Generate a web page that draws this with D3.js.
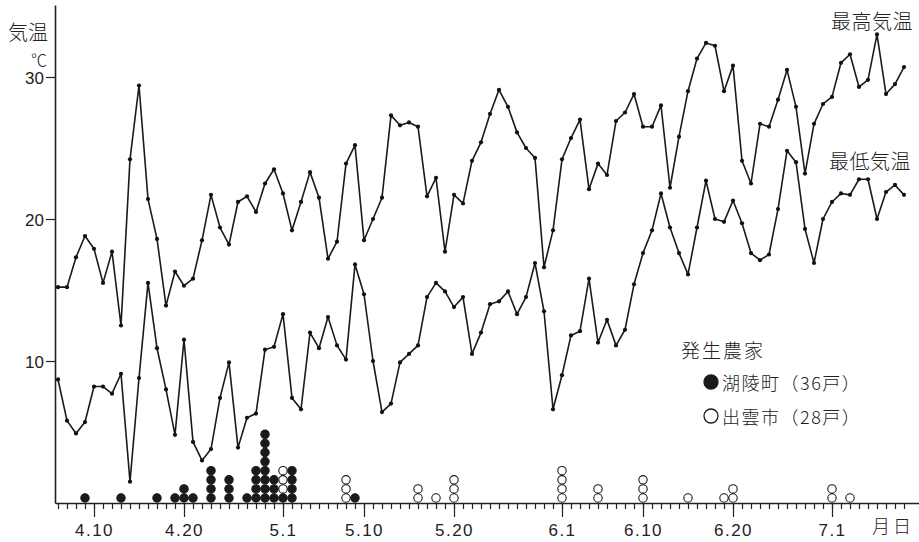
<!DOCTYPE html>
<html><head><meta charset="utf-8">
<script src="https://cdn.jsdelivr.net/npm/d3@7"></script>
<style>
body{margin:0;background:#fff}
.num{font-family:"Liberation Sans","DejaVu Sans",sans-serif;fill:#222}
.jp{font-family:"Noto Sans CJK JP","Noto Sans",sans-serif;fill:#222;font-weight:300}
</style>
</head><body>
<svg id="c" width="919" height="542"></svg>
<script>
// ---- data ----
const startDate = "2001-04-06";   // first day of the daily series (year arbitrary)
const maxTemp = [
  15.2,15.2,17.3,18.8,17.9,15.5,17.7,12.5,24.2,29.4,21.4,18.6,13.9,16.3,15.3,15.8,18.5,21.7,19.4,18.2,21.2,21.6,20.5,22.5,23.5,
  21.8,19.2,21.2,23.3,21.5,17.2,18.4,23.9,25.2,18.5,20.0,21.5,27.3,26.6,26.8,26.5,21.6,22.9,17.7,21.7,21.1,24.1,25.4,27.4,29.1,27.9,26.1,25.0,24.3,16.6,19.2,
  24.2,25.7,27.0,22.1,23.9,23.1,26.9,27.5,28.8,26.5,26.5,28.0,22.2,25.8,29.0,31.3,32.4,32.2,29.0,30.8,24.1,22.5,26.7,26.5,28.4,30.5,27.9,23.2,26.7,28.1,
  28.6,31.0,31.6,29.3,29.8,33.0,28.8,29.5,30.7
];
const minTemp = [
  8.7,5.8,4.9,5.7,8.2,8.2,7.7,9.1,1.5,8.8,15.5,10.9,8.0,4.8,11.5,4.3,3.0,3.8,7.4,9.9,3.9,6.0,6.3,10.8,11.0,
  13.3,7.4,6.6,12.0,10.9,13.1,11.1,10.1,16.8,14.7,10.0,6.4,7.0,9.9,10.5,11.1,14.5,15.5,14.9,13.8,14.5,10.5,12.0,14.0,14.2,14.9,13.3,14.5,16.9,13.5,6.6,
  9.0,11.8,12.1,15.8,11.3,12.9,11.1,12.2,15.4,17.6,19.2,21.8,19.4,17.6,16.1,19.4,22.7,20.0,19.8,21.3,19.7,17.6,17.1,17.5,20.7,24.8,24.0,19.3,16.9,20.0,
  21.2,21.8,21.7,22.8,22.8,20.0,21.9,22.4,21.7
];
const majorTickDates  = ["2001-04-10","2001-04-20","2001-05-01","2001-05-10","2001-05-20","2001-06-01","2001-06-10","2001-06-20","2001-07-01"];
const majorTickLabels = ["4.10","4.20","5.1","5.10","5.20","6.1","6.10","6.20","7.1"];
const yTicks = [10, 20, 30];
// outbreak farms per day (stacked symbols)
const occDates    = ["2001-04-09","2001-04-13","2001-04-17","2001-04-19","2001-04-20","2001-04-21","2001-04-23","2001-04-25","2001-04-27","2001-04-28","2001-04-29","2001-04-30","2001-05-01","2001-05-02","2001-05-08","2001-05-09","2001-05-16","2001-05-18","2001-05-20","2001-06-01","2001-06-05","2001-06-10","2001-06-15","2001-06-19","2001-06-20","2001-07-01","2001-07-03"];
const kobaCounts  = [1,1,1,1,2,1,4,3,1,4,8,3,1,4,0,1,0,0,0,0,0,0,0,0,0,0,0];
const izumoCounts = [0,0,0,0,0,0,0,0,0,0,0,0,3,0,3,0,2,1,3,4,2,3,1,1,2,2,1];
const seriesLabels = ["最高気温","最低気温"];
const legendTitle = "発生農家";
const legendItems = ["湖陵町（36戸）","出雲市（28戸）"];

// ---- chart ----
const svg = d3.select("#c");
const parse = d3.utcParse("%Y-%m-%d");
const t0 = parse(startDate);
const days = maxTemp.map((_, i) => d3.utcDay.offset(t0, i));

const x = d3.scaleUtc().domain([t0, days[days.length - 1]]).range([58, 904]);
const y = d3.scaleLinear().domain([0, 30]).range([503, 77]);
const stack = d3.scaleLinear().domain([0, 1]).range([498, 488.9]);

// axes
const xAxisScale = x.copy().domain([x.invert(55), x.invert(919)]).range([55, 919]);
const allDays = d3.utcDay.range(t0, d3.utcDay.offset(days[days.length - 1], 1));
const gx = svg.append("g").attr("transform", "translate(0,503)");
gx.call(d3.axisBottom(xAxisScale).tickValues(allDays).tickSize(6).tickSizeOuter(0).tickFormat(""));
const majors = majorTickDates.map(parse);
const gx2 = svg.append("g").attr("transform", "translate(0,503)");
gx2.call(d3.axisBottom(xAxisScale).tickValues(majors).tickSize(14).tickSizeOuter(0)
  .tickFormat((d, i) => majorTickLabels[i]));
gx2.select(".domain").remove();
[gx, gx2].forEach(g => {
  g.selectAll("line").attr("stroke", "#222").attr("stroke-width", 1.2);
  g.selectAll(".domain").attr("stroke", "#222").attr("stroke-width", 1.4);
});
gx2.selectAll("text").attr("class", "num").attr("y", 33).attr("dy", 0)
  .attr("font-size", 17).style("letter-spacing", "1.5px");

const yAxisScale = y.copy().domain([0, y.invert(5)]).range([503, 5]);
const gy = svg.append("g").attr("transform", "translate(55,0)");
gy.call(d3.axisLeft(yAxisScale).tickValues(yTicks).tickSize(9).tickSizeOuter(0).tickPadding(2));
gy.selectAll("line").attr("stroke", "#222").attr("stroke-width", 1.2);
gy.select(".domain").attr("stroke", "#222").attr("stroke-width", 1.6);
gy.selectAll("text").attr("class", "num").attr("font-size", 17).attr("dy", "0.36em");

svg.append("text").attr("class", "num").attr("x", 893).attr("y", 533)
  .attr("text-anchor", "middle").attr("font-size", 18)
  .style("font-family", '"Noto Sans CJK JP",sans-serif').style("font-weight", 300)
  .style("letter-spacing", "3px").text("月日");

svg.append("text").attr("class", "jp").attr("x", 8).attr("y", 40).attr("font-size", 20).text("気温");
svg.append("text").attr("class", "jp").attr("x", 31).attr("y", 66).attr("font-size", 16).text("℃");

// temperature lines
const line = d3.line().x((d, i) => x(days[i])).y(d => y(d));
[maxTemp, minTemp].forEach(s => {
  svg.append("path").datum(s).attr("d", line).attr("fill", "none")
    .attr("stroke", "#1a1a1a").attr("stroke-width", 1.6).attr("stroke-linejoin", "round");
  svg.append("g").selectAll("circle").data(s).join("circle")
    .attr("cx", (d, i) => x(days[i])).attr("cy", d => y(d)).attr("r", 2.1).attr("fill", "#111");
});

svg.append("text").attr("class", "jp").attr("x", 831).attr("y", 29).attr("font-size", 20)
  .style("letter-spacing", "0.5px").text(seriesLabels[0]);
svg.append("text").attr("class", "jp").attr("x", 829).attr("y", 169).attr("font-size", 20)
  .style("letter-spacing", "0.5px").text(seriesLabels[1]);

// outbreak symbols
const syms = [];
occDates.forEach((ds, j) => {
  const d = parse(ds);
  for (let k = 0; k < kobaCounts[j]; k++) syms.push({d, k, filled: true});
  for (let k = 0; k < izumoCounts[j]; k++) syms.push({d, k: kobaCounts[j] + k, filled: false});
});
svg.append("g").selectAll("circle").data(syms).join("circle")
  .attr("cx", s => x(s.d)).attr("cy", s => stack(s.k)).attr("r", 4.2)
  .attr("fill", s => s.filled ? "#1a1a1a" : "#fff")
  .attr("stroke", "#1a1a1a").attr("stroke-width", 1.1);

// legend
svg.append("text").attr("class", "jp").attr("x", 681).attr("y", 358).attr("font-size", 19)
  .style("letter-spacing", "2px").text(legendTitle);
[true, false].forEach((filled, i) => {
  const cy = 382 + i * 34;
  svg.append("circle").attr("cx", 711).attr("cy", cy).attr("r", 7)
    .attr("fill", filled ? "#1a1a1a" : "#fff").attr("stroke", "#1a1a1a").attr("stroke-width", 1.3);
  svg.append("text").attr("class", "jp").attr("x", 722).attr("y", cy + 8).attr("font-size", 18)
    .style("letter-spacing", "1.5px").text(legendItems[i]);
});
</script>
</body></html>
